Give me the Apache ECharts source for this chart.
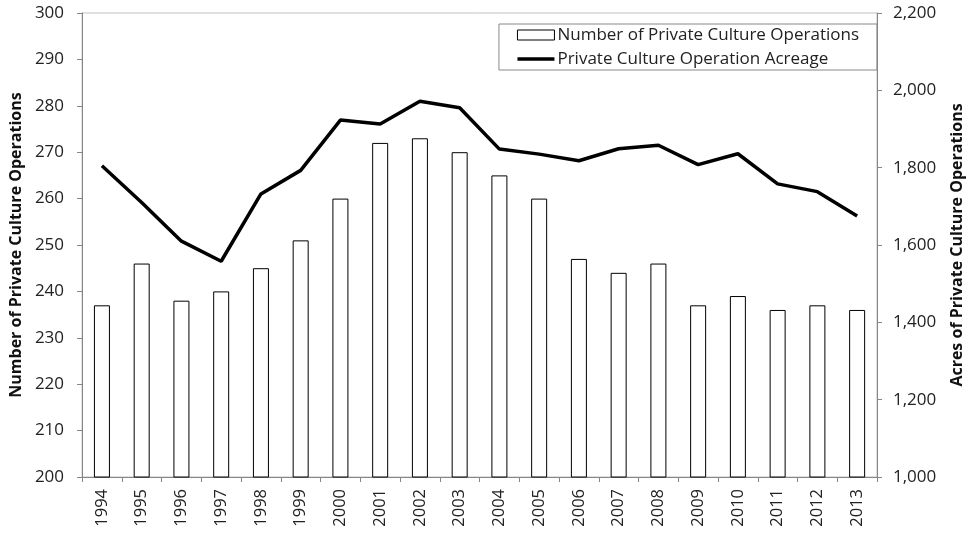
<!DOCTYPE html>
<html><head><meta charset="utf-8">
<script src="https://cdn.jsdelivr.net/npm/echarts@6/dist/echarts.min.js"></script>
<style>html,body{margin:0;padding:0;background:#fff}#c{width:973px;height:536px}</style>
</head><body><div id="c"></div>
<script>
const years = ['1994','1995','1996','1997','1998','1999','2000','2001','2002','2003','2004','2005','2006','2007','2008','2009','2010','2011','2012','2013'];
const operations = [237,246,238,240,245,251,260,272,273,270,265,260,247,244,246,237,239,236,237,236];
const acreage = [1805,1710,1610,1558,1732,1793,1923,1913,1972,1955,1848,1835,1818,1849,1858,1808,1836,1758,1738,1675];
const leftName = 'Number of Private Culture Operations';
const rightName = 'Acres of Private Culture Operations';
const barName = 'Number of Private Culture Operations';
const lineName = 'Private Culture Operation Acreage';

const font = '"Open Sans", "Liberation Sans", sans-serif';
const axisGray = '#868686';
const chart = echarts.init(document.getElementById('c'));
chart.setOption({
  animation: false,
  textStyle: {fontFamily: font},
  grid: {left: 80, right: 91, top: 13, bottom: 59, show: true, borderColor: '#c0c0c0', borderWidth: 1},
  legend: {
    right: 96, top: 24, orient: 'vertical', itemGap: 4,
    borderColor: '#888', borderWidth: 1, padding: [1, 18, 1, 18],
    itemWidth: 37, itemHeight: 10,
    textStyle: {fontFamily: font, fontSize: 17, color: '#222', lineHeight: 20, padding: [0, 0, 0, -2]},
    data: [
      {name: barName, icon: 'rect', itemStyle: {color: '#fff', borderColor: '#000', borderWidth: 1}},
      {name: lineName, icon: 'path://M0,0 H37 V3.5 H0 Z', itemStyle: {color: '#000', borderWidth: 0}}
    ]
  },
  xAxis: {
    type: 'category', data: years,
    axisLine: {lineStyle: {color: axisGray}},
    axisTick: {show: true, alignWithLabel: false, length: 5, lineStyle: {color: axisGray}},
    axisLabel: {rotate: 90, fontSize: 16.5, color: '#222', fontFamily: font, margin: 12}
  },
  yAxis: [
    {
      type: 'value', min: 200, max: 300, interval: 10,
      name: leftName, nameLocation: 'middle', nameGap: 57,
      nameTextStyle: {fontWeight: 'bold', fontSize: 16, color: '#111', fontFamily: font},
      axisLine: {show: true, lineStyle: {color: axisGray}},
      axisTick: {show: true, length: 5, lineStyle: {color: axisGray}},
      splitLine: {show: false},
      axisLabel: {fontSize: 17, color: '#222', fontFamily: font, margin: 18}
    },
    {
      type: 'value', min: 1000, max: 2200, interval: 200,
      name: rightName, nameLocation: 'middle', nameGap: 72, nameRotate: 90,
      nameTextStyle: {fontWeight: 'bold', fontSize: 16, color: '#111', fontFamily: font},
      axisLine: {show: true, lineStyle: {color: axisGray}},
      axisTick: {show: true, length: 5, lineStyle: {color: axisGray}},
      splitLine: {show: false},
      axisLabel: {fontSize: 17, color: '#222', fontFamily: font, margin: 16,
        formatter: v => v.toLocaleString('en-US')}
    }
  ],
  series: [
    {
      name: barName, type: 'bar', data: operations, barWidth: 16,
      itemStyle: {color: '#fff', borderColor: '#000', borderWidth: 1}
    },
    {
      name: lineName, type: 'line', yAxisIndex: 1, data: acreage,
      symbol: 'none', lineStyle: {color: '#000', width: 3.5}, itemStyle: {color: '#000'}
    }
  ]
});
</script></body></html>
